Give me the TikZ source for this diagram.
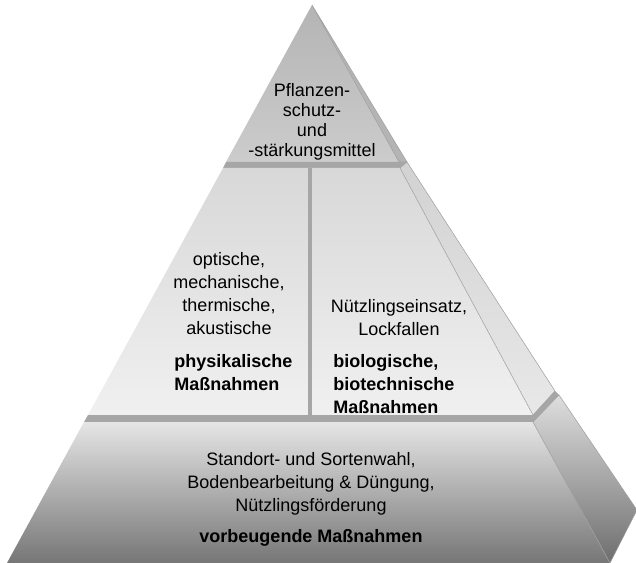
\documentclass[tikz,border=0pt]{standalone}
\usepackage{fontspec}
\setmainfont{Liberation Sans}

\definecolor{bandgray}{RGB}{166,166,166}
\definecolor{edgegray}{RGB}{160,160,160}
\definecolor{tipA}{RGB}{180,180,180}
\definecolor{tipB}{RGB}{204,204,204}
\definecolor{midA}{RGB}{216,216,216}
\definecolor{midB}{RGB}{240,240,240}
\definecolor{midsideA}{RGB}{210,210,210}
\definecolor{midsideB}{RGB}{232,232,232}
\definecolor{baseA}{RGB}{229,229,229}
\definecolor{baseB}{RGB}{118,118,118}
\definecolor{basesideA}{RGB}{222,222,222}
\definecolor{basesideB}{RGB}{110,110,110}

\begin{document}
\begin{tikzpicture}[x=0.75pt,y=-0.75pt,
  txt/.style={inner sep=0pt,align=center,text=black,font=\fontsize{13.5}{17.25}\selectfont},
  boldtxt/.style={txt,align=left,font=\fontsize{13.5}{17.25}\selectfont\bfseries},
  side/.style={draw=edgegray,line width=0.4pt}]

  \useasboundingbox (0,0) rectangle (636,563);

  % tip
  \path[top color=tipA,bottom color=tipB] (312,5) -- (399,162) -- (226,162) -- cycle;
  \path[side,fill=tipA] (312,5) -- (407,162) -- (399,162) -- cycle;
  \fill[bandgray] (226,162) -- (407,162) -- (400,168) -- (223,168) -- cycle;

  % middle tier
  \path[top color=midA,bottom color=midB] (223,168) -- (400,168) -- (533,415) -- (88,415) -- cycle;
  \path[side,top color=midsideA,bottom color=midsideB] (400,168) -- (407,162) -- (555,391) -- (533,415) -- cycle;
  \fill[bandgray] (308,168) rectangle (312,415);
  \fill[bandgray] (88,415) -- (533,415) -- (555,391) -- (559,395) -- (533,422) -- (84,422) -- cycle;

  % base
  \path[top color=baseA,bottom color=baseB] (84,422) -- (533,422) -- (610,563) -- (7,563) -- cycle;
  \path[side,top color=basesideA,bottom color=basesideB] (533,422) -- (559,395) -- (637,510) -- (610,563) -- cycle;

  % texts
  \node[txt,anchor=north,font=\fontsize{13.5}{15}\selectfont] (mittel) at (312,83)
    {Pflanzen-\\schutz-\\und\\-stärkungsmittel};

  \node[txt,anchor=north] (physik) at (229,252)
    {optische,\\mechanische,\\thermische,\\akustische};
  \node[boldtxt,anchor=north west] (physlabel) at (174,354)
    {physikalische\\Maßnahmen};

  \node[txt,anchor=north] (nutz) at (399,299)
    {Nützlingseinsatz,\\Lockfallen};
  \node[boldtxt,anchor=north west] (biolabel) at (333,354)
    {biologische,\\biotechnische\\Maßnahmen};

  \node[txt,anchor=north] (standort) at (311,452)
    {Standort- und Sortenwahl,\\Bodenbearbeitung \& Düngung,\\Nützlingsförderung};
  \node[boldtxt,anchor=north] (vorbeug) at (311,529)
    {vorbeugende Maßnahmen};

\end{tikzpicture}
\end{document}
